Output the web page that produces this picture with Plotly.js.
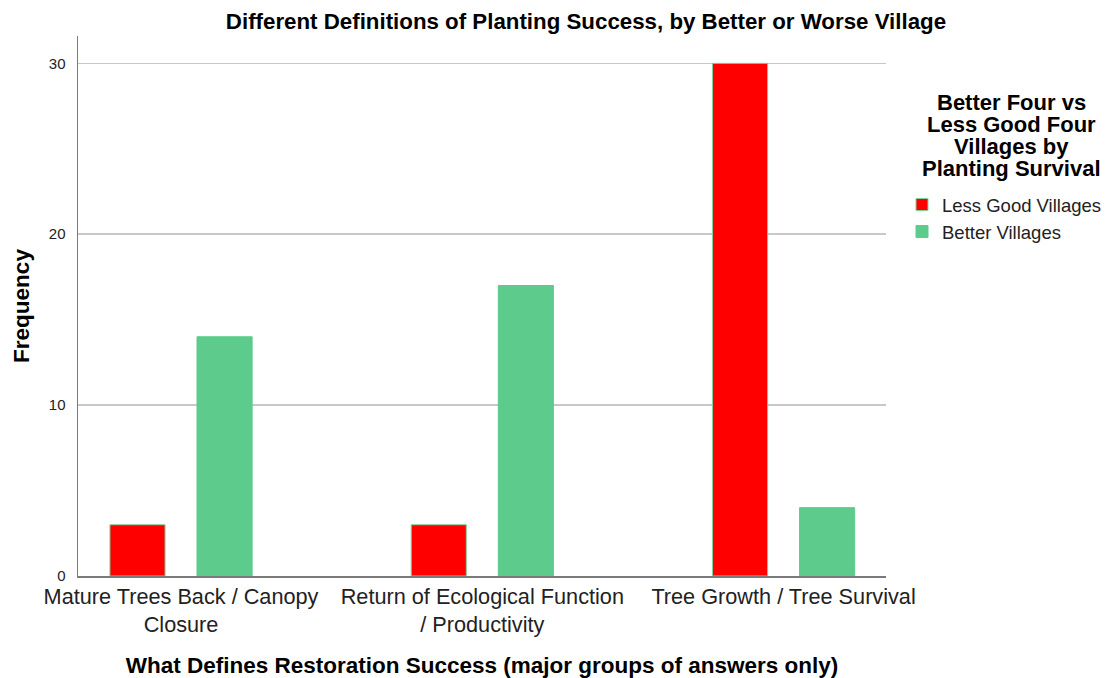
<!DOCTYPE html>
<html>
<head>
<meta charset="utf-8">
<script src="https://cdn.plot.ly/plotly-3.0.1.min.js"></script>
<style>html,body{margin:0;padding:0;background:#fff;}#chart{width:1105px;height:678px;}</style>
</head>
<body>
<div id="chart"></div>
<script>
const categories = [
  "Mature Trees Back / Canopy<br>Closure",
  "Return of Ecological Function<br>/ Productivity",
  "Tree Growth / Tree Survival"
];
const seriesNames = ["Less Good Villages", "Better Villages"];
const lessGood = [3, 3, 30];
const better = [14, 17, 4];
const yTicks = [0, 10, 20, 30];
const legendTitleLines = ["Better Four vs", "Less Good Four", "Villages by", "Planting Survival"];

const font = "Arial, 'Liberation Sans', sans-serif";
const W = 1105, H = 678, L = 78, R = 219, T = 36, B = 102;
const pw = W - L - R, ph = H - T - B;
const px2x = p => (p - L) / pw;
const px2y = p => (H - B - p) / ph;

const traces = [
  {type: "bar", name: seriesNames[0], x: categories, y: lessGood,
   marker: {color: "#ff0000", line: {color: "#7fd39e", width: 1}}},
  {type: "bar", name: seriesNames[1], x: categories, y: better,
   marker: {color: "#5ccb8b", line: {color: "#5ccb8b", width: 1}}}
];

const annotations = legendTitleLines.map((t, i) => ({
  text: "<b>" + t + "</b>", xref: "paper", yref: "paper",
  x: px2x(1011), y: px2y(102 + i * 22.3), xanchor: "center", yanchor: "middle",
  showarrow: false, font: {size: 22, family: font, color: "#000"}
}));

const layout = {
  width: W, height: H,
  margin: {l: L, r: R, t: T, b: B, pad: 0, autoexpand: false},
  paper_bgcolor: "#fff", plot_bgcolor: "#fff",
  font: {family: font, color: "#000"},
  barmode: "group", bargap: 0.422, bargroupgap: 0.367,
  title: {text: "<b>Different Definitions of Planting Success, by Better or Worse Village</b>",
          font: {size: 22.3, family: font}, x: 586 / W, xanchor: "center", y: 1 - 21 / H, yanchor: "middle"},
  xaxis: {
    type: "category", range: [-0.342, 2.34],
    showline: true, linecolor: "#7a7a7a", linewidth: 1.5,
    ticks: "", tickfont: {size: 21.7, family: font, color: "#222"},
    title: {text: "<b>What Defines Restoration Success (major groups of answers only)</b>",
            font: {size: 22.5, family: font}, standoff: 21},
    automargin: false,
    fixedrange: true
  },
  yaxis: {
    range: [0, 31.6], tickvals: yTicks, ticktext: yTicks.map(String),
    showline: true, linecolor: "#7a7a7a", linewidth: 1.5,
    showgrid: true, gridcolor: "#c8c8c8", gridwidth: 1.5, zeroline: false,
    ticks: "outside", ticklen: 8, tickcolor: "rgba(0,0,0,0)",
    tickfont: {size: 15, family: font, color: "#222"},
    title: {text: "<b>Frequency</b>", font: {size: 22.5, family: font}, standoff: 13},
    automargin: false,
    fixedrange: true
  },
  legend: {
    x: px2x(902), xref: "paper", y: px2y(186), yanchor: "top",
    font: {size: 18.5, family: font, color: "#222"},
    itemwidth: 30, tracegroupgap: 0, bgcolor: "rgba(0,0,0,0)"
  },
  annotations: annotations,
  showlegend: true
};
Plotly.newPlot("chart", traces, layout, {displayModeBar: false, staticPlot: true});
</script>
</body>
</html>
